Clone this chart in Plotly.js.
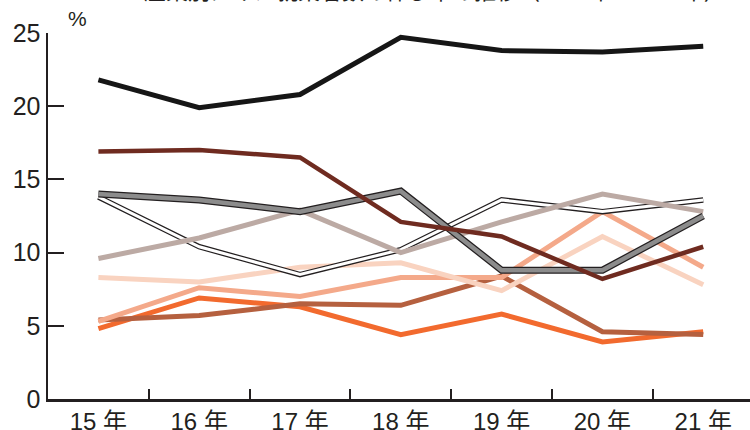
<!DOCTYPE html>
<html>
<head>
<meta charset="utf-8">
<script src="https://cdn.plot.ly/plotly-3.0.1.min.js"></script>
<style>html,body{margin:0;padding:0;background:#fff;}#chart{width:750px;height:430px;}</style>
</head>
<body>
<div id="chart"></div>
<script>
// ---- data ----
const years = ["15 年", "16 年", "17 年", "18 年", "19 年", "20 年", "21 年"];
const seriesBlack  = [21.8, 19.9, 20.8, 24.7, 23.8, 23.7, 24.1];
const seriesMaroon = [16.9, 17.0, 16.5, 12.1, 11.1, 8.2, 10.4];
const seriesGray   = [14.0, 13.6, 12.8, 14.2, 8.8, 8.8, 12.5];
const seriesWhite  = [13.8, 10.4, 8.5, 10.2, 13.6, 12.8, 13.6];
const seriesTaupe  = [9.6, 11.0, 12.9, 10.0, 12.1, 14.0, 12.8];
const seriesPeach  = [8.3, 8.0, 9.0, 9.3, 7.4, 11.1, 7.8];
const seriesSalmon = [5.3, 7.6, 7.0, 8.3, 8.3, 12.8, 9.0];
const seriesBrown  = [5.4, 5.7, 6.5, 6.4, 8.4, 4.6, 4.4];
const seriesOrange = [4.8, 6.9, 6.3, 4.4, 5.8, 3.9, 4.6];
const yTicks = [0, 5, 10, 15, 20, 25];
const titleText = "産業別にみた就業者数の伸び率の推移（2015年〜2021年）";
const unitText = "%";

function line(y, color, width) {
  return {x: years, y: y, type: "scatter", mode: "lines",
          line: {color: color, width: width}, hoverinfo: "skip", showlegend: false};
}

const traces = [
  line(seriesOrange, "#f26a2e", 5),
  line(seriesBrown, "#b5603f", 5),
  line(seriesSalmon, "#f4a98a", 5),
  line(seriesPeach, "#f9d3c0", 5),
  line(seriesWhite, "#231f20", 5.5),
  line(seriesWhite, "#ffffff", 3),
  line(seriesTaupe, "#bcaaa4", 5),
  line(seriesGray, "#231f20", 7),
  line(seriesGray, "#8c8c8c", 4.5),
  line(seriesMaroon, "#6f2b20", 4.5),
  line(seriesBlack, "#161616", 5)
];

const fontFam = "Liberation Sans Narrow, Liberation Sans, Noto Sans CJK JP, sans-serif";

const layout = {
  width: 750, height: 430,
  margin: {l: 48, r: 0, t: 33, b: 31},
  paper_bgcolor: "#ffffff", plot_bgcolor: "#ffffff",
  showlegend: false,
  xaxis: {
    type: "category", range: [-0.5, 6.464],
    tickson: "boundaries", ticks: "inside", ticklen: 10, tickwidth: 2, tickcolor: "#231f20",
    showline: true, linecolor: "#231f20", linewidth: 2.5,
    showgrid: false, zeroline: false, fixedrange: true,
    tickfont: {family: fontFam, size: 24, color: "#231f20"}
  },
  yaxis: {
    range: [0, 25], tickvals: yTicks, ticktext: yTicks.map(String),
    ticks: "inside", ticklen: 16, tickwidth: 2, tickcolor: "#231f20",
    showline: true, linecolor: "#231f20", linewidth: 2.5,
    showgrid: false, zeroline: false, fixedrange: true,
    tickfont: {family: fontFam, size: 25, color: "#231f20"}
  },
  annotations: [
    {text: unitText, xref: "paper", yref: "paper", x: 29 / 702, y: 1 + 15 / 366,
     xanchor: "center", yanchor: "middle", showarrow: false,
     font: {family: fontFam, size: 21, color: "#231f20"}},
    {text: titleText, xref: "paper", yref: "paper", x: (435 - 48) / 702, y: 1 + 44 / 366,
     xanchor: "center", yanchor: "middle", showarrow: false,
     font: {family: "Noto Sans CJK JP, sans-serif", size: 22, color: "#231f20"}}
  ]
};

Plotly.newPlot("chart", traces, layout, {staticPlot: true, displayModeBar: false});
</script>
</body>
</html>
